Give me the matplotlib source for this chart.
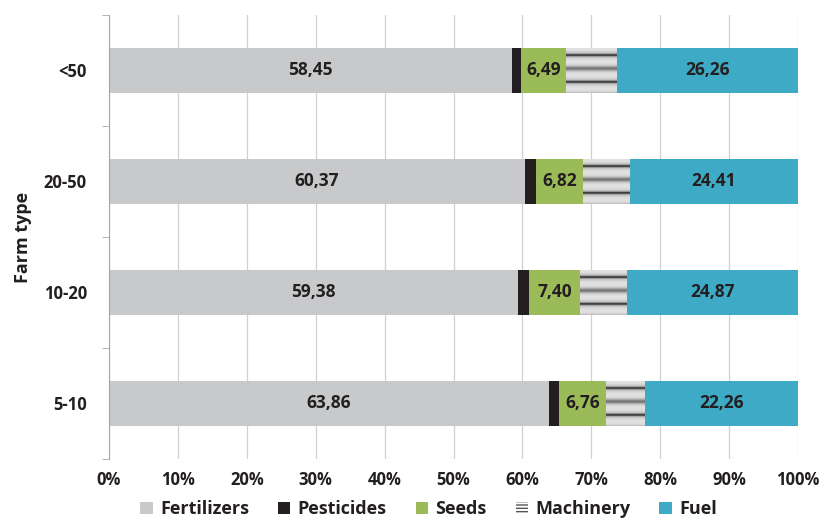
"""Stacked 100% bar chart of input cost shares by farm type."""

import matplotlib.pyplot as plt
import numpy as np
from matplotlib.patches import Patch

plt.rcParams["font.family"] = ["Open Sans", "DejaVu Sans"]
plt.rcParams["font.weight"] = "bold"

farm_types = ["5-10", "10-20", "20-50", "<50"]
fertilizers = [63.86, 59.38, 60.37, 58.45]
pesticides = [1.50, 1.60, 1.60, 1.40]
seeds = [6.76, 7.40, 6.82, 6.49]
machinery = [5.62, 6.75, 6.80, 7.40]
fuel = [22.26, 24.87, 24.41, 26.26]

TXT = "#231f20"
C_FERT = "#c8c9cb"
C_PEST = "#231f20"
C_SEED = "#9bbb59"
C_FUEL = "#3eaac6"

fig = plt.figure(figsize=(8.21, 5.23), dpi=100)
ax = fig.add_axes([0.1328, 0.1224, 0.8392, 0.8490])

y = np.arange(len(farm_types))
h = 0.405

# stripe texture for the machinery segments (dark / mid-grey alternating bands)
t = np.linspace(0, 1, 180)
phase = 2 * np.pi * 1.67 * (t - 0.155)
c = np.cos(phase)
stripe = 0.88 - 0.18 * np.abs(c) ** 3
stripe -= 0.55 * np.clip(c, 0, None) ** 30
stripe -= 0.25 * np.clip(-c, 0, None) ** 10
stripe_img = np.tile(stripe[:, None], (1, 2))

left = np.zeros(len(farm_types))
ax.barh(y, fertilizers, h, left=left, color=C_FERT, zorder=2)
left += fertilizers
ax.barh(y, pesticides, h, left=left, color=C_PEST, zorder=2)
left += pesticides
ax.barh(y, seeds, h, left=left, color=C_SEED, zorder=2)
left += seeds
mach_bars = ax.barh(y, machinery, h, left=left, color="#bdbdbd", zorder=2)
for b in mach_bars:
    x0, y0 = b.get_x(), b.get_y()
    ax.imshow(stripe_img, cmap="gray", vmin=0, vmax=1, aspect="auto",
              extent=(x0, x0 + b.get_width(), y0, y0 + b.get_height()),
              interpolation="bilinear", zorder=2.5)
left += machinery
ax.barh(y, fuel, h, left=left, color=C_FUEL, zorder=2)


def fmt(v):
    return f"{v:.2f}".replace(".", ",")


# value labels
for i in range(len(farm_types)):
    kw = dict(ha="center", va="center", fontsize=12.5, color=TXT, fontweight="bold", zorder=3)
    ax.text(fertilizers[i] / 2, y[i], fmt(fertilizers[i]), **kw)
    s0 = fertilizers[i] + pesticides[i]
    ax.text(s0 + seeds[i] / 2, y[i], fmt(seeds[i]), **kw)
    f0 = 100 - fuel[i]
    ax.text(f0 + fuel[i] / 2, y[i], fmt(fuel[i]), **kw)

ax.set_xlim(0, 100)
ax.set_ylim(-0.5, len(farm_types) - 0.5)
ax.set_xticks(np.arange(0, 101, 10))
ax.set_xticklabels([f"{v}%" for v in range(0, 101, 10)], fontsize=12,
                   fontweight="bold", color=TXT)
ax.set_yticks(y)
ax.set_yticklabels(farm_types, fontsize=12, fontweight="bold", color=TXT)
ax.set_yticks(np.arange(-0.5, len(farm_types), 1), minor=True)
ax.tick_params(axis="y", which="major", length=0, pad=16)
ax.tick_params(axis="y", which="minor", length=5, color="#a6a6a6")
ax.tick_params(axis="x", length=0, pad=9)
ax.grid(axis="x", color="#d0d0d0", lw=0.9, zorder=0)
for s in ("top", "right", "bottom"):
    ax.spines[s].set_visible(False)
ax.spines["left"].set_color("#a6a6a6")
ax.set_ylabel("Farm type", fontsize=13, fontweight="bold", color=TXT, labelpad=8)

handles = [
    Patch(facecolor=C_FERT, label="Fertilizers"),
    Patch(facecolor=C_PEST, label="Pesticides"),
    Patch(facecolor=C_SEED, label="Seeds"),
    Patch(facecolor="white", edgecolor="#555555", hatch="-----", lw=0, label="Machinery"),
    Patch(facecolor=C_FUEL, label="Fuel"),
]
leg = fig.legend(handles=handles, loc="lower center", bbox_to_anchor=(0.522, -0.022),
                 ncol=5, frameon=False, handlelength=0.7, handleheight=0.7,
                 handletextpad=0.4, columnspacing=1.6,
                 prop={"size": 13, "weight": "bold"})
for t_ in leg.get_texts():
    t_.set_color(TXT)

fig.savefig("out.png", dpi=100)
